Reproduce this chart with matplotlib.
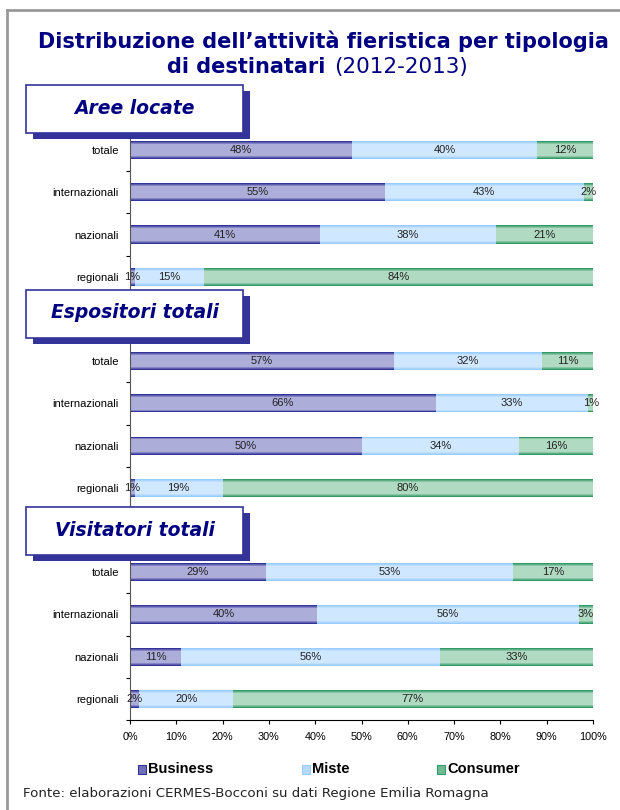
import numpy as np
import matplotlib
matplotlib.use('Agg')
import matplotlib.pyplot as plt
from matplotlib.patches import Rectangle
from matplotlib.lines import Line2D
from matplotlib.colors import to_rgb

# data (percent), order: top to bottom inside each group
groups = ['Aree locate', 'Espositori totali', 'Visitatori totali']
categories = ['totale', 'internazionali', 'nazionali', 'regionali']
series = ['Business', 'Miste', 'Consumer']

business = [[48, 55, 41, 1], [57, 66, 50, 1], [29, 40, 11, 2]]
miste = [[40, 43, 38, 15], [32, 33, 34, 19], [53, 56, 56, 20]]
consumer = [[12, 2, 21, 84], [11, 1, 16, 80], [17, 3, 33, 77]]

x_ticks = [0, 10, 20, 30, 40, 50, 60, 70, 80, 90, 100]

# colours: (edge, centre) for the fake gradient
shades = {
    'Business': ('#333399', '#adadda'),
    'Miste': ('#99ccff', '#d0e8ff'),
    'Consumer': ('#339966', '#b0dac1'),
}
navy = '#000080'

W, H = 620, 810
fig = plt.figure(figsize=(W / 100, H / 100), dpi=100)

def fx(px):
    return px / W

def fy(py):
    return 1 - py / H

def blend(c1, c2, t):
    a, b = np.array(to_rgb(c1)), np.array(to_rgb(c2))
    return tuple(a + (b - a) * t)

# outer frame (grey line left and top)
fig.add_artist(Line2D([fx(7), fx(7)], [fy(10), fy(812)], color='#999999', lw=2))
fig.add_artist(Line2D([fx(7), fx(625)], [fy(10), fy(10)], color='#999999', lw=2))

# title
fig.text(fx(323), fy(41), 'Distribuzione dell\u2019attivit\u00e0 fieristica per tipologia',
         ha='center', va='center', fontsize=15, fontweight='bold', color=navy,
         family='DejaVu Sans')
fig.text(fx(325), fy(67), 'di destinatari', ha='right', va='center', fontsize=15,
         fontweight='bold', color=navy, family='DejaVu Sans')
fig.text(fx(334), fy(67), '(2012-2013)', ha='left', va='center', fontsize=15.5,
         color=navy, family='DejaVu Sans')

# main axes
ax_left, ax_right, ax_top, ax_bot = 130, 593, 129, 720
ax = fig.add_axes([fx(ax_left), fy(ax_bot), fx(ax_right - ax_left), (ax_bot - ax_top) / H])

# slot positions: 4 bars per group plus one empty slot between groups
n_slots = 14
ypos = []
labels = [''] * n_slots
for g in range(len(groups)):
    for c in range(len(categories)):
        slot = g * 5 + c
        ypos.append(slot)
        labels[slot] = categories[c]

bar_h = 0.43
layers = np.linspace(1.0, 0.35, 7)
k = 0
for g in range(len(groups)):
    for c in range(len(categories)):
        vals = [business[g][c], miste[g][c], consumer[g][c]]
        tot = sum(vals)
        left = 0
        for s, v in zip(series, vals):
            w = v / tot * 100
            edge, centre = shades[s]
            for i, f in enumerate(layers):
                col = blend(edge, centre, min(1, i / 3))
                ax.barh(ypos[k], w, left=left, height=bar_h * f, color=col, lw=0)
            ax.text(left + w / 2, ypos[k], f'{v}%', ha='center', va='center',
                    fontsize=8, color='#222222', family='Liberation Sans')
            left += w
        k += 1

ax.set_xlim(0, 100)
ax.set_ylim(n_slots - 0.5, -0.5)
ax.set_xticks(x_ticks)
ax.set_xticklabels([f'{t}%' for t in x_ticks], fontsize=7.8, family='Liberation Sans')
ax.set_yticks(np.arange(n_slots + 1) - 0.5)
ax.set_yticklabels([])
ax.set_yticks(np.arange(n_slots), minor=True)
ax.set_yticklabels(labels, minor=True, fontsize=8, family='Liberation Sans')
ax.tick_params(axis='y', which='major', length=3, direction='out', color='black')
ax.tick_params(axis='y', which='minor', length=0, pad=8)
ax.tick_params(axis='x', length=3, direction='out', pad=6)
for side in ['top', 'right']:
    ax.spines[side].set_visible(False)
ax.spines['left'].set_color('#555555')
ax.spines['bottom'].set_color('black')

# group title boxes with shadow
box_tops = [85, 290, 507]
for gname, top in zip(groups, box_tops):
    bx, bw, bh = 26, 217, 48
    fig.add_artist(Rectangle((fx(bx + 7), fy(top + bh + 6)), fx(bw), bh / H,
                             facecolor='#333399', edgecolor='none', zorder=5))
    fig.add_artist(Rectangle((fx(bx), fy(top + bh)), fx(bw), bh / H,
                             facecolor='white', edgecolor='#333399', lw=1.2, zorder=6))
    fig.text(fx(bx + bw / 2), fy(top + bh / 2 - 1), gname, ha='center', va='center',
             fontsize=13.5, fontweight='bold', style='italic', color=navy,
             family='DejaVu Sans', zorder=7)

# legend, drawn by hand to match the spacing
legend_x = [138, 302, 437]
for s, lx in zip(series, legend_x):
    edge, centre = shades[s]
    fig.add_artist(Rectangle((fx(lx), fy(774)), fx(8), 9 / H, facecolor=blend(edge, centre, 0.5),
                             edgecolor=edge, lw=0.8))
    fig.text(fx(lx + 10), fy(769), s, ha='left', va='center', fontsize=10.5,
             fontweight='bold', color='black', family='Liberation Sans')

fig.text(fx(23), fy(794), 'Fonte: elaborazioni CERMES-Bocconi su dati Regione Emilia Romagna',
         ha='left', va='center', fontsize=9.6, color='#222222', family='DejaVu Sans')

fig.savefig('out.png', dpi=100)
